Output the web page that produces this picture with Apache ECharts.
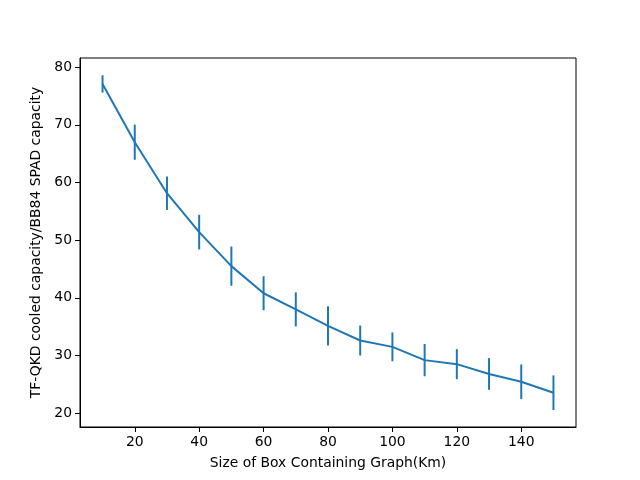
<!DOCTYPE html>
<html>
<head>
<meta charset="utf-8">
<script src="https://cdn.jsdelivr.net/npm/echarts@6/dist/echarts.min.js"></script>
<style>html,body{margin:0;padding:0;background:#fff;}#c{width:640px;height:480px;}</style>
</head>
<body>
<div id="c"></div>
<script>
const xValues = [10, 20, 30, 40, 50, 60, 70, 80, 90, 100, 110, 120, 130, 140, 150];
const yMeans = [77.1, 67.0, 58.15, 51.4, 45.5, 40.8, 38.0, 35.15, 32.6, 31.5, 29.2, 28.5, 26.8, 25.45, 23.55];
const yErrors = [1.5, 3.05, 2.9, 3.0, 3.4, 2.95, 2.95, 3.4, 2.6, 2.5, 2.8, 2.6, 2.75, 3.0, 3.0];
const xTicks = [20, 40, 60, 80, 100, 120, 140];
const yTicks = [20, 30, 40, 50, 60, 70, 80];

const color = '#1f77b4';
const font = 'DejaVu Sans';
const chart = echarts.init(document.getElementById('c'), null, {renderer: 'canvas'});
const lineData = xValues.map((x, i) => [x, yMeans[i]]);
const errData = xValues.map((x, i) => [x, yMeans[i] - yErrors[i], yMeans[i] + yErrors[i]]);

chart.setOption({
  animation: false,
  backgroundColor: '#fff',
  grid: {left: 80, right: 64, top: 58, bottom: 53, show: true, borderColor: '#000', borderWidth: 1, backgroundColor: 'transparent'},
  xAxis: {
    type: 'value', min: 3, max: 157,
    name: 'Size of Box Containing Graph(Km)', nameLocation: 'middle', nameGap: 29,
    nameTextStyle: {fontFamily: font, fontSize: 13.9, color: '#000'},
    axisLine: {show: true, lineStyle: {color: '#000', width: 1}},
    axisTick: {show: true, inside: false, length: 5, customValues: xTicks, lineStyle: {color: '#000'}},
    axisLabel: {customValues: xTicks, margin: 8, fontFamily: font, fontSize: 13.9, color: '#000'},
    splitLine: {show: false}
  },
  yAxis: {
    type: 'value', min: 17.6, max: 81.6,
    name: 'TF-QKD cooled capacity/BB84 SPAD capacity', nameLocation: 'middle', nameGap: 30,
    nameTextStyle: {fontFamily: font, fontSize: 13.9, color: '#000'},
    axisLine: {show: true, lineStyle: {color: '#000', width: 1}},
    axisTick: {show: true, inside: false, length: 5, customValues: yTicks, lineStyle: {color: '#000'}},
    axisLabel: {customValues: yTicks, margin: 8, fontFamily: font, fontSize: 13.9, color: '#000'},
    splitLine: {show: false}
  },
  series: [
    {
      type: 'line', data: lineData, showSymbol: false, symbol: 'none',
      lineStyle: {color: color, width: 2}, itemStyle: {color: color}, z: 3
    },
    {
      type: 'custom', data: errData, z: 4,
      renderItem: function (params, api) {
        const x = api.value(0);
        const lo = api.coord([x, api.value(1)]);
        const hi = api.coord([x, api.value(2)]);
        return {type: 'line', shape: {x1: lo[0], y1: lo[1], x2: hi[0], y2: hi[1]}, style: {stroke: color, lineWidth: 2}};
      }
    }
  ]
});
</script>
</body>
</html>
